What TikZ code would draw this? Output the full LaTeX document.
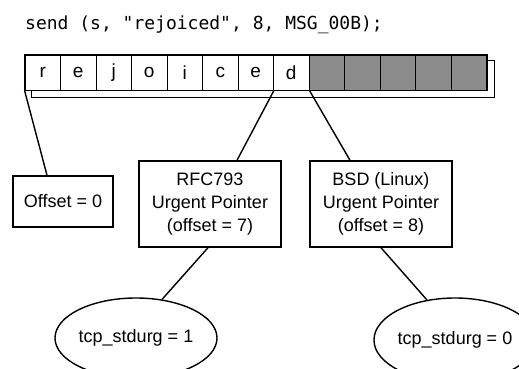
\documentclass[tikz,border=0pt]{standalone}
\usepackage{fontspec}
\setmainfont{Liberation Sans}
\newfontfamily\codefont{DejaVu Sans Mono}
\usetikzlibrary{calc,shapes.geometric}

\tikzset{
	cell/.style={draw, line width=0.9pt, minimum width=35.5pt, minimum height=35pt, inner sep=0pt, font=\fontsize{19}{20}\selectfont},
	oob/.style={cell, fill=black!45},
	infobox/.style={draw, line width=1.4pt, inner sep=0pt, align=center, font=\fontsize{18}{23}\selectfont},
	flag/.style={ellipse, draw, line width=1.4pt, inner sep=0pt, minimum width=144pt, font=\fontsize{18}{20}\selectfont},
	link/.style={line width=1.4pt}
}

\begin{document}
\begin{tikzpicture}[x=1pt,y=-1pt]
	\useasboundingbox (0,0) rectangle (519,369);
	
	% Draw the send call
	\node[anchor=base west, inner sep=0pt, font=\codefont\fontsize{18}{20}\selectfont] (call) at (25,30) {send (s, "rejoiced", 8, MSG\_00B);};
	
	% Draw the buffer with its shadow
	\draw[line width=1pt] (31,61) rectangle (494,97);
	\fill[white] (25,55) rectangle (487,90);
	\foreach \i/\c in {0/r,1/e,2/j,3/o,4/i,5/c,6/e,7/d}
		\node[cell, fill=white] (c\i) at (25+35.5*\i+17.75,72.5) {\c};
	\foreach \i in {8,...,12}
		\node[oob] (c\i) at (25+35.5*\i+17.75,72.5) {};
	\draw[line width=1.4pt] (c0.north west) rectangle (c12.south east);
	
	% Draw the offsets
	\node[infobox, minimum width=100pt, minimum height=51pt] (off) at (63,201.5) {Offset = 0};
	\node[infobox, minimum width=142pt, minimum height=86pt] (rfc) at (210,204) {RFC793\\Urgent Pointer\\(offset = 7)};
	\node[infobox, minimum width=142pt, minimum height=86pt] (bsd) at (381,204) {BSD (Linux)\\Urgent Pointer\\(offset = 8)};
	
	% Draw tcp_stdurg
	\node[flag, minimum height=80pt] (urg1) at (136,338) {tcp\_stdurg = 1};
	\node[flag, minimum height=84pt] (urg0) at (455,340) {tcp\_stdurg = 0};
	
	% Draw the pointers
	\draw[link] (c0.south west) -- ([xshift=-16pt]off.north);
	\draw[link] (c6.south east) -- ([xshift=27pt]rfc.north);
	\draw[link] (c7.south east) -- ([xshift=-31pt]bsd.north);
	\draw[link] ([xshift=-2pt]rfc.south) -- (urg1.56);
	\draw[link] (bsd.south) -- (urg0.125);
	
\end{tikzpicture}
\end{document}
